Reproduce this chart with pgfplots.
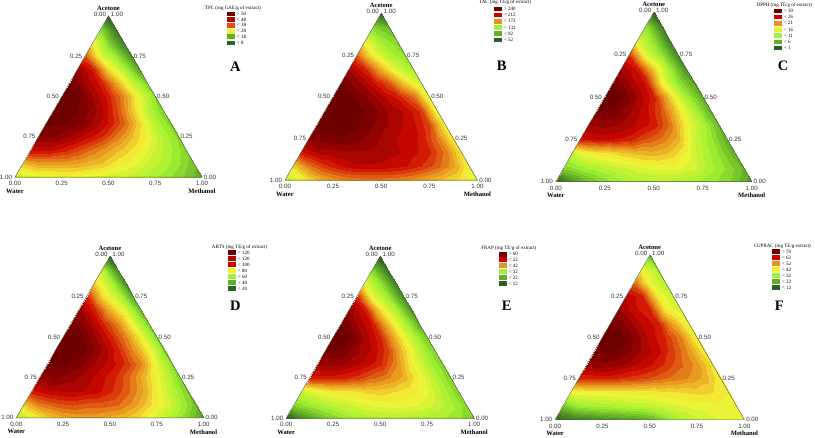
\documentclass[border=0pt]{standalone}
\usepackage{pgfplots}
\usepgfplotslibrary{patchplots}
\pgfplotsset{compat=1.18}
\usepackage{pgfplotstable}
\usepackage{fontspec}
\setmainfont{Liberation Serif}
\newfontfamily\tickf{Liberation Sans}
\pgfplotstableread{
i j A B C D E F
0 0 25.2 103.2 0.6 44.8 1.2 1.5
0 1 26.4 127.2 4.3 65.8 8.4 6
0 2 27.6 151.2 6.8 77 13.2 7.5
0 3 28.2 163.2 8.7 84 16.8 9
0 4 28.2 170.4 10.2 86.8 19.8 10.5
0 5 27.6 172.8 11.2 86.8 21.6 12
0 6 26.4 172.8 11.5 84 22.2 15
0 7 25.2 170.4 11.5 79.8 22.8 21
0 8 22.8 165.6 10.9 72.8 22.2 27
0 9 21 156 10.2 61.6 21.6 30.8
0 10 18.6 146.4 9.3 50.4 21 33.8
0 11 15.6 136.8 7.8 37.8 19.2 35.3
0 12 12 124.8 5 23.8 15.6 36
1 0 34.8 144 8.7 81.2 16.8 18.8
1 1 37.2 175.2 10.2 95.2 19.8 24.8
1 2 37.2 194.4 11.5 100.8 22.2 26.3
1 3 37.2 206.4 12.4 103.6 24.6 27
1 4 36 213.6 13.3 100.8 26.4 28.5
1 5 34.2 213.6 14.3 100.8 28.2 29.3
1 6 31.2 211.2 14.6 98 28.8 31.5
1 7 28.8 206.4 14.6 89.6 28.8 33.8
1 8 25.2 196.8 13.3 77 27.6 35.3
1 9 22.2 182.4 11.2 64.4 25.2 36
1 10 18.6 163.2 9.3 50.4 21.6 36.8
1 11 14.4 132 6.8 33.6 17.4 36.8
2 0 49.2 204 13 112 25.2 36
2 1 49.2 218.4 15.5 117.6 29.4 37.5
2 2 47.4 220.8 16.4 119 31.2 37.5
2 3 44.4 223.2 17.4 119 31.8 38.3
2 4 40.8 223.2 18.3 116.2 33 39
2 5 37.2 220.8 18.6 109.2 33.6 39
2 6 33.6 216 17.7 99.4 32.4 39.8
2 7 30 208.8 15.2 88.2 30.6 40.5
2 8 25.2 199.2 11.8 70 28.2 41.3
2 9 21 175.2 9.3 53.2 22.2 40.5
2 10 16.8 136.8 6.2 36.4 16.2 37.5
3 0 55.2 232.8 24.8 126 47.4 58.5
3 1 55.2 240 25.4 130.2 47.4 58.5
3 2 52.8 242.4 25.1 126 46.8 58.5
3 3 49.8 237.6 24.5 120.4 45 57
3 4 46.2 228 22.6 114.8 42 55.5
3 5 40.8 218.4 21.1 106.4 39.6 53.3
3 6 34.8 211.2 18.6 93.8 36 51
3 7 29.4 204 13 77 30 48.8
3 8 22.8 175.2 9.9 58.8 22.8 45
3 9 17.4 132 6.2 37.8 16.2 37.5
4 0 58.2 244.8 27.3 135.8 53.4 67.5
4 1 58.2 247.2 27.9 135.8 54 68.3
4 2 56.4 247.2 27.3 131.6 52.2 66.8
4 3 52.8 240 26 123.2 49.8 63.8
4 4 48.6 228 24.5 116.2 46.8 60.8
4 5 42 218.4 21.1 106.4 39.6 57
4 6 32.4 208.8 15.5 92.4 30 52.5
4 7 22.8 189.6 11.2 64.4 22.8 48
4 8 16.8 132 6.8 42 16.2 39
5 0 60 249.6 29.8 140 57.6 72.8
5 1 58.8 249.6 29.5 140 57.6 73.5
5 2 56.4 247.2 27.6 134.4 53.4 70.5
5 3 51.6 237.6 25.4 123.2 50.4 66
5 4 44.4 223.2 22.3 109.2 44.4 61.5
5 5 34.2 213.6 16.7 91 33.6 55.5
5 6 24 194.4 11.2 70 24 48
5 7 16.2 124.8 6.2 39.2 16.2 37.5
6 0 60 247.2 31 140 59.4 75
6 1 58.2 247.2 30.1 137.2 58.2 74.3
6 2 52.8 235.2 27.3 126 52.2 69
6 3 47.4 218.4 24.2 110.6 46.8 62.3
6 4 39 204 17.4 92.4 34.8 57.8
6 5 27.6 180 10.9 70 24 49.5
6 6 18 122.4 5.9 39.2 15 36
7 0 58.8 244.8 29.8 137.2 58.2 72.8
7 1 52.8 228 27.3 126 52.8 69
7 2 47.4 208.8 24.8 110.6 48 63
7 3 37.2 184.8 15.5 92.4 34.8 59.3
7 4 25.2 146.4 9.6 67.2 22.8 46.5
7 5 16.2 112.8 5.3 36.4 12 34.5
8 0 54 223.2 27.3 126 54 67.5
8 1 48 199.2 24.8 110.6 48 61.5
8 2 33 156 17.4 84 32.4 58.5
8 3 22.8 117.6 10.2 63 21.6 39
8 4 10.8 93.6 4.3 30.8 9 32.3
9 0 43.2 180 23.6 109.2 46.8 63
9 1 27.6 132 14.3 77 28.8 58.5
9 2 19.2 100.8 9.6 56 19.8 37.5
9 3 8.4 84 3.7 25.2 7.2 30.8
10 0 30 127.2 14.3 77 27.6 52.5
10 1 16.8 93.6 9.3 53.2 18.6 36
10 2 6 79.2 3.1 19.6 6 28.5
11 0 16.8 79.2 9.3 53.2 16.8 36
11 1 4.8 64.8 3.1 16.8 4.8 27
12 0 1.2 19.2 0.6 1.4 0.6 16.5
}\data
\pgfplotsset{
 tri/.style={table/row sep=crcr,patch table={%
0 1 13\\1 2 14\\2 3 15\\3 4 16\\4 5 17\\5 6 18\\6 7 19\\7 8 20\\8 9 21\\9 10 22\\10 11 23\\11 12 24\\%
1 14 13\\2 15 14\\3 16 15\\4 17 16\\5 18 17\\6 19 18\\7 20 19\\8 21 20\\9 22 21\\10 23 22\\11 24 23\\%
13 14 25\\14 15 26\\15 16 27\\16 17 28\\17 18 29\\18 19 30\\19 20 31\\20 21 32\\21 22 33\\22 23 34\\23 24 35\\%
14 26 25\\15 27 26\\16 28 27\\17 29 28\\18 30 29\\19 31 30\\20 32 31\\21 33 32\\22 34 33\\23 35 34\\%
25 26 36\\26 27 37\\27 28 38\\28 29 39\\29 30 40\\30 31 41\\31 32 42\\32 33 43\\33 34 44\\34 35 45\\%
26 37 36\\27 38 37\\28 39 38\\29 40 39\\30 41 40\\31 42 41\\32 43 42\\33 44 43\\34 45 44\\%
36 37 46\\37 38 47\\38 39 48\\39 40 49\\40 41 50\\41 42 51\\42 43 52\\43 44 53\\44 45 54\\%
37 47 46\\38 48 47\\39 49 48\\40 50 49\\41 51 50\\42 52 51\\43 53 52\\44 54 53\\%
46 47 55\\47 48 56\\48 49 57\\49 50 58\\50 51 59\\51 52 60\\52 53 61\\53 54 62\\%
47 56 55\\48 57 56\\49 58 57\\50 59 58\\51 60 59\\52 61 60\\53 62 61\\%
55 56 63\\56 57 64\\57 58 65\\58 59 66\\59 60 67\\60 61 68\\61 62 69\\%
56 64 63\\57 65 64\\58 66 65\\59 67 66\\60 68 67\\61 69 68\\%
63 64 70\\64 65 71\\65 66 72\\66 67 73\\67 68 74\\68 69 75\\%
64 71 70\\65 72 71\\66 73 72\\67 74 73\\68 75 74\\%
70 71 76\\71 72 77\\72 73 78\\73 74 79\\74 75 80\\%
71 77 76\\72 78 77\\73 79 78\\74 80 79\\%
76 77 81\\77 78 82\\78 79 83\\79 80 84\\%
77 82 81\\78 83 82\\79 84 83\\%
81 82 85\\82 83 86\\83 84 87\\%
82 86 85\\83 87 86\\%
85 86 88\\86 87 89\\86 89 88\\%
88 89 90\\%
}},
 colormap={ter}{rgb255(0)=(45,85,40) rgb255(17)=(90,165,40) rgb255(33)=(160,240,50) rgb255(50)=(245,245,55) rgb255(66)=(232,140,30) rgb255(82)=(208,10,0) rgb255(94)=(135,0,0) rgb255(100)=(110,0,0)},
 colormap={terb}{samples of colormap=(26 of ter)},
 ternplot/.style={
   scale only axis, clip=false, hide axis, xmin=0, xmax=1, ymin=0, ymax=1,
   colormap name=terb, colormap access=piecewise constant},
}
\definecolor{fr}{RGB}{85,95,60}
\newcommand\ternframe{%
 \draw[draw=fr,line width=0.45pt] (axis cs:0,0)--(axis cs:1,0)--(axis cs:0.5,1)--cycle;
 \node[font=\tickf\fontsize{6.2}{7}\selectfont,text=black!80,inner sep=0pt] at ([shift={(-8.5pt,1.5pt)}]axis cs:0.5,1) {0.00};
 \node[font=\tickf\fontsize{6.2}{7}\selectfont,text=black!80,inner sep=0pt] at ([shift={(8.5pt,1.5pt)}]axis cs:0.5,1) {1.00};
 \node[font=\tickf\fontsize{6.2}{7}\selectfont,text=black!80,inner sep=0pt] at ([shift={(-9pt,0pt)}]axis cs:0.375,0.75) {0.25};
 \node[font=\tickf\fontsize{6.2}{7}\selectfont,text=black!80,inner sep=0pt] at ([shift={(-9pt,0pt)}]axis cs:0.25,0.5) {0.50};
 \node[font=\tickf\fontsize{6.2}{7}\selectfont,text=black!80,inner sep=0pt] at ([shift={(-9pt,0pt)}]axis cs:0.125,0.25) {0.75};
 \node[font=\tickf\fontsize{6.2}{7}\selectfont,text=black!80,inner sep=0pt] at ([shift={(-9pt,0pt)}]axis cs:0,0) {1.00};
 \node[font=\tickf\fontsize{6.2}{7}\selectfont,text=black!80,inner sep=0pt] at ([shift={(8pt,0pt)}]axis cs:0.625,0.75) {0.75};
 \node[font=\tickf\fontsize{6.2}{7}\selectfont,text=black!80,inner sep=0pt] at ([shift={(8pt,0pt)}]axis cs:0.75,0.5) {0.50};
 \node[font=\tickf\fontsize{6.2}{7}\selectfont,text=black!80,inner sep=0pt] at ([shift={(8pt,0pt)}]axis cs:0.875,0.25) {0.25};
 \node[font=\tickf\fontsize{6.2}{7}\selectfont,text=black!80,inner sep=0pt] at ([shift={(8pt,0pt)}]axis cs:1,0) {0.00};
 \node[font=\tickf\fontsize{6.2}{7}\selectfont,text=black!80,inner sep=0pt] at ([shift={(0pt,-6.5pt)}]axis cs:0,0) {0.00};
 \node[font=\tickf\fontsize{6.2}{7}\selectfont,text=black!80,inner sep=0pt] at ([shift={(0pt,-6.5pt)}]axis cs:0.25,0) {0.25};
 \node[font=\tickf\fontsize{6.2}{7}\selectfont,text=black!80,inner sep=0pt] at ([shift={(0pt,-6.5pt)}]axis cs:0.5,0) {0.50};
 \node[font=\tickf\fontsize{6.2}{7}\selectfont,text=black!80,inner sep=0pt] at ([shift={(0pt,-6.5pt)}]axis cs:0.75,0) {0.75};
 \node[font=\tickf\fontsize{6.2}{7}\selectfont,text=black!80,inner sep=0pt] at ([shift={(0pt,-6.5pt)}]axis cs:1,0) {1.00};
 \node[font=\bfseries\fontsize{6.6}{7}\selectfont,inner sep=0pt] at ([shift={(0pt,7.5pt)}]axis cs:0.5,1) {Acetone};
 \node[font=\bfseries\fontsize{6.6}{7}\selectfont,inner sep=0pt] at ([shift={(0pt,-14pt)}]axis cs:0,0) {Water};
 \node[font=\bfseries\fontsize{6.6}{7}\selectfont,inner sep=0pt] at ([shift={(0pt,-14pt)}]axis cs:1,0) {Methanol};
}
\newcommand\ternp[1]{\addplot[patch,shader=interp,point meta=explicit,tri] table[x expr=(\thisrow{j}+0.5*\thisrow{i})/12,y expr=\thisrow{i}/12,meta=#1]{\data};}
\newcommand\sw[4]{% x, y (from top), label, colour
 \fill[#4] (#1,438-#2-2.4) rectangle (#1+8,438-#2+2.4);
 \node[anchor=west,inner sep=0pt,font=\fontsize{5}{6}\selectfont] at (#1+9.5,438-#2) {#3};}
\begin{document}
\begin{tikzpicture}[x=1pt,y=1pt]
\path (0,0) rectangle (815,438);
\begin{axis}[ternplot,at={(14.7pt,260.7pt)},anchor=south west,width=187pt,height=161.6pt,point meta min=0,point meta max=60]
\ternp{A}\ternframe
\end{axis}
\begin{axis}[ternplot,at={(284.7pt,257.7pt)},anchor=south west,width=192.6pt,height=167pt,point meta min=12,point meta max=252]
\ternp{B}\ternframe
\end{axis}
\begin{axis}[ternplot,at={(555.7pt,256.3pt)},anchor=south west,width=196pt,height=169.4pt,point meta min=0,point meta max=31]
\ternp{C}\ternframe
\end{axis}
\begin{axis}[ternplot,at={(16pt,20pt)},anchor=south west,width=187.3pt,height=161.7pt,point meta min=0,point meta max=140]
\ternp{D}\ternframe
\end{axis}
\begin{axis}[ternplot,at={(286pt,19.7pt)},anchor=south west,width=188pt,height=162pt,point meta min=0,point meta max=60]
\ternp{E}\ternframe
\end{axis}
\begin{axis}[ternplot,at={(555pt,18.3pt)},anchor=south west,width=189.3pt,height=164.4pt,point meta min=0,point meta max=75]
\ternp{F}\ternframe
\end{axis}
\definecolor{k1}{HTML}{700000}\definecolor{k2}{HTML}{A80A05}\definecolor{k3}{HTML}{D00000}
\definecolor{k4}{HTML}{E89020}\definecolor{k5}{HTML}{F0F030}\definecolor{k6}{HTML}{A0F040}
\definecolor{k7}{HTML}{60B028}\definecolor{k8}{HTML}{2F5F28}\definecolor{k9}{HTML}{E84A10}
% A
\node[font=\fontsize{5}{6}\selectfont,inner sep=0pt] at (232.7,430) {TPC (mg GAE/g of extract)};
\sw{227}{14}{> 50}{k1}\sw{227}{19.8}{< 48}{k2}\sw{227}{25.2}{< 38}{k9}\sw{227}{31.2}{< 28}{k5}\sw{227}{36.8}{< 18}{k7}\sw{227}{43}{< 8}{k8}
\node[font=\bfseries\fontsize{14.5}{16}\selectfont,inner sep=0pt] at (235,371.3) {A};
% B
\node[font=\fontsize{5}{6}\selectfont,inner sep=0pt] at (505,435.3) {TAC (mg TE/g of extract)};
\sw{494.3}{9}{> 240}{k1}\sw{494.3}{15}{< 212}{k3}\sw{494.3}{21.3}{< 172}{k4}\sw{494.3}{27.7}{< 132}{k6}\sw{494.3}{33.7}{< 92}{k7}\sw{494.3}{40}{< 52}{k8}
\node[font=\bfseries\fontsize{14.5}{16}\selectfont,inner sep=0pt] at (501.7,372) {B};
% C
\node[font=\fontsize{5}{6}\selectfont,inner sep=0pt] at (784.3,433) {DPPH (mg TE/g of extract)};
\sw{774.3}{11}{> 30}{k1}\sw{774.3}{17}{< 26}{k3}\sw{774.3}{23.3}{< 21}{k4}\sw{774.3}{29.7}{< 16}{k5}\sw{774.3}{35.7}{< 11}{k6}\sw{774.3}{42}{< 6}{k7}\sw{774.3}{48}{< 1}{k8}
\node[font=\bfseries\fontsize{14.5}{16}\selectfont,inner sep=0pt] at (783,372) {C};
% D
\node[font=\fontsize{5}{6}\selectfont,inner sep=0pt] at (239.3,190.7) {ABTS (mg TE/g of extract)};
\sw{228}{253}{> 120}{k1}\sw{228}{259}{< 120}{k2}\sw{228}{265}{< 100}{k3}\sw{228}{271}{< 80}{k5}\sw{228}{276.7}{< 60}{k6}\sw{228}{282.7}{< 40}{k7}\sw{228}{288.7}{< 20}{k8}
\node[font=\bfseries\fontsize{14.5}{16}\selectfont,inner sep=0pt] at (235,132.3) {D};
% E
\node[font=\fontsize{5}{6}\selectfont,inner sep=0pt] at (508.7,189.7) {FRAP (mg TE/g of extract)};
\sw{499}{254.3}{> 60}{k1}\sw{499}{260}{< 52}{k3}\sw{499}{266}{< 42}{k4}\sw{499}{272}{< 32}{k6}\sw{499}{278}{< 22}{k7}\sw{499}{284}{< 12}{k8}
\node[font=\bfseries\fontsize{14.5}{16}\selectfont,inner sep=0pt] at (506.7,132.3) {E};
% F
\node[font=\fontsize{5}{6}\selectfont,inner sep=0pt] at (782.3,192) {CUPRAC (mg TE/g extract)};
\sw{772.3}{252}{> 70}{k1}\sw{772.3}{258}{< 62}{k3}\sw{772.3}{264}{< 52}{k4}\sw{772.3}{270}{< 42}{k5}\sw{772.3}{276}{< 32}{k6}\sw{772.3}{282}{< 22}{k7}\sw{772.3}{288}{< 12}{k8}
\node[font=\bfseries\fontsize{14.5}{16}\selectfont,inner sep=0pt] at (779.3,132.3) {F};
\end{tikzpicture}
\end{document}
